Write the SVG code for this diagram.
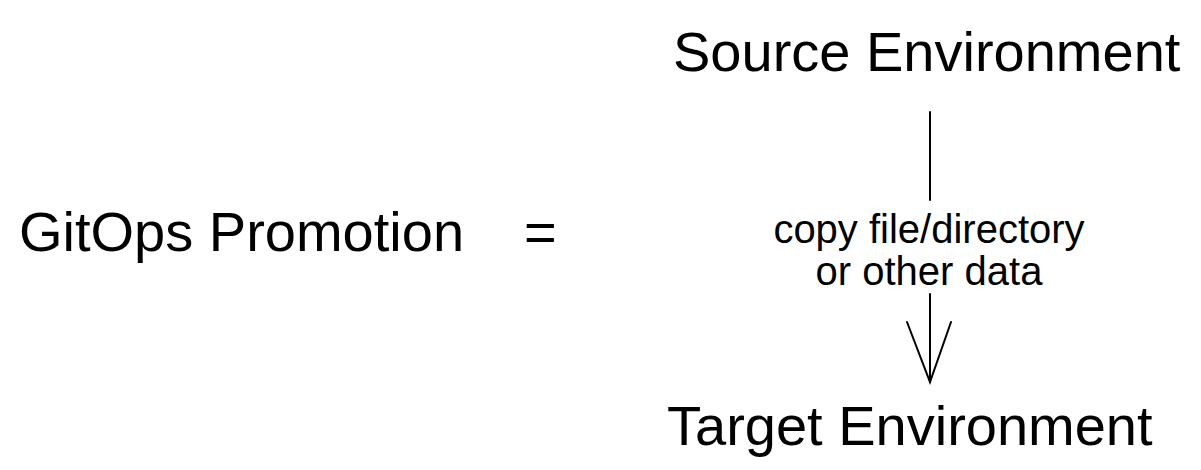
<svg xmlns="http://www.w3.org/2000/svg" width="1201" height="470" viewBox="0 0 1201 470">
<style>
.t{font-family:"Liberation Sans",Arial,sans-serif;fill:#000}
.big{font-size:56px}
.lbl{font-size:40px;text-anchor:middle}
.ln{stroke:#000;stroke-width:2;fill:none;stroke-linecap:round}
</style>
<rect width="1201" height="470" fill="#fff"/>
<g id="promotion"><text class="t big" x="19" y="251">GitOps Promotion</text></g>
<g id="equals"><text class="t big" x="524" y="251">=</text></g>
<g id="source"><text class="t big" x="673" y="71">Source Environment</text></g>
<g id="target"><text class="t big" x="667" y="445">Target Environment</text></g>
<g id="connectors">
<path class="ln" d="M930 112V200"/>
<path class="ln" d="M930 294V382"/>
<path class="ln" d="M907 322L930 382L951 322"/>
<text class="t lbl" x="929" y="243">copy file/directory</text>
<text class="t lbl" x="929" y="285">or other data</text>
</g>
</svg>
